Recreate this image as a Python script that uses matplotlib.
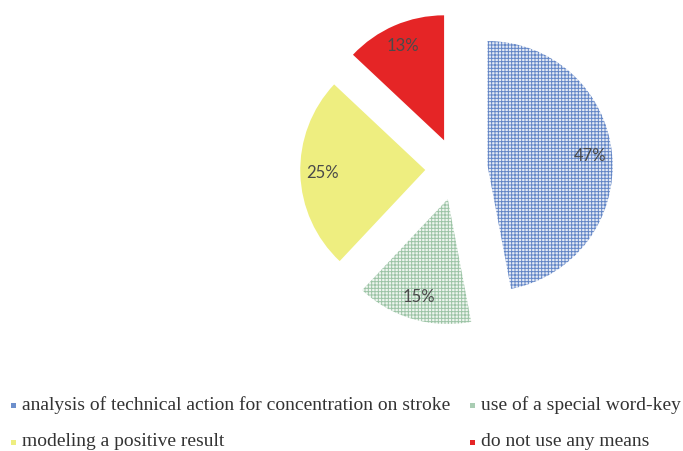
import matplotlib
matplotlib.use("Agg")
import matplotlib.pyplot as plt
from matplotlib.patches import Rectangle

labels = ["analysis of technical action for concentration on stroke",
          "use of a special word-key",
          "modeling a positive result",
          "do not use any means"]
shares = [47, 15, 25, 13]
face = ["#e4eaf5", "#eef5ef", "#eeee80", "#e52526"]
hatch_col = ["#6386c6", "#9cc4a6", "#eeee80", "#e52526"]
hatches = ["+++++", "+++++", None, None]
marker_col = ["#6d8fcc", "#a9cdb3", "#eeee80", "#e52526"]

plt.rcParams["hatch.linewidth"] = 0.7

W, H = 683, 451
fig = plt.figure(figsize=(W / 100, H / 100), dpi=100)

# pie centre and radius in pixels
cx, cy, R = 456.5, 169, 125
ax = fig.add_axes([(cx - 1.5 * R) / W, (H - cy - 1.5 * R) / H, 3 * R / W, 3 * R / H])
wedges, texts, autotexts = ax.pie(shares, explode=[0.25] * 4, startangle=90, counterclock=False,
                                  radius=1, autopct="%d%%", pctdistance=0.82,
                                  wedgeprops=dict(linewidth=0),
                                  textprops=dict(fontsize=12, color="#4a4a4a", family="Lato"))
for w, f, hc, h in zip(wedges, face, hatch_col, hatches):
    w.set_facecolor(f)
    w.set_edgecolor(hc)
    w.set_linewidth(0)
    if h:
        w.set_hatch(h)
ax.set_xlim(-1.5, 1.5)
ax.set_ylim(-1.5, 1.5)
ax.axis("off")

# legend, two columns
pos = [(13, 405), (472, 405), (13, 442), (472, 442)]
for (x, y), lab, mc in zip(pos, labels, marker_col):
    fig.add_artist(Rectangle(((x - 2.5) / W, (H - y - 2.5) / H), 5 / W, 5 / H,
                             transform=fig.transFigure, facecolor=mc, edgecolor="none"))
    fig.text((x + 9) / W, (H - y) / H, lab, fontsize=14, family="Liberation Serif",
             color="#333333", va="center", ha="left")

fig.savefig("out.png", dpi=100)
